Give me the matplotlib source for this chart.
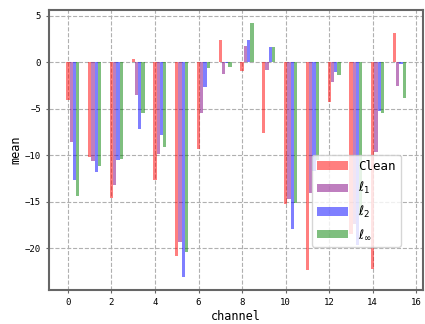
import numpy as np
from matplotlib import pyplot as plt

plt.rcParams['font.family'] = ['DejaVu Sans Mono', 'DejaVu Sans']
plt.rcParams['axes.unicode_minus'] = True

channels = np.arange(16)
clean = [-4.1, -10.2, -14.6, 0.35, -12.6, -20.8, -9.3, 2.4,
         -0.93, -7.65, -15.25, -22.3, -4.3, -18.5, -22.2, 3.15]
l1 = [-8.6, -10.65, -13.2, -3.5, -9.8, -19.3, -5.4, -1.3,
      1.75, -0.8, -14.65, -14.0, -2.15, -17.4, -9.6, -2.5]
l2 = [-12.7, -11.8, -10.5, -7.2, -7.8, -23.1, -2.6, -0.05,
      2.4, 1.65, -17.9, -11.7, -1.0, -19.6, -5.2, -0.2]
linf = [-14.4, -11.1, -10.4, -5.4, -9.15, -20.4, -0.6, -0.5,
        4.25, 1.65, -15.1, -10.5, -1.4, -16.5, -5.4, -3.8]

series = [clean, l1, l2, linf]
labels = ['Clean', r'$\ell_1$', r'$\ell_2$', r'$\ell_\infty$']
colors = ['red', 'purple', 'blue', 'green']

fig = plt.figure(figsize=(4.25, 3.24), dpi=100)
ax = fig.add_axes([0.116, 0.105, 0.879, 0.864])

w = 0.15
for i, (vals, lab, c) in enumerate(zip(series, labels, colors)):
    ax.bar(channels + i * w, vals, width=w, color=c, alpha=0.5, label=lab)

ax.grid(True, linestyle='--', color='#b0b0b0', linewidth=0.8)
ax.set_axisbelow(True)
for s in ax.spines.values():
    s.set_color('#666666')
    s.set_linewidth(1.5)
ax.tick_params(labelsize=6.5, length=2.5, color='#666666')
ax.set_xticks(range(0, 17, 2))
ax.set_xlabel('channel', fontsize=8.5, labelpad=2)
ax.set_ylabel('mean', fontsize=8.5, labelpad=2)

ax.legend(loc='lower left', bbox_to_anchor=(0.703, 0.155), borderaxespad=0,
          fontsize=9, labelspacing=0.6, handlelength=2.5)

fig.savefig('out.png', dpi=100)
